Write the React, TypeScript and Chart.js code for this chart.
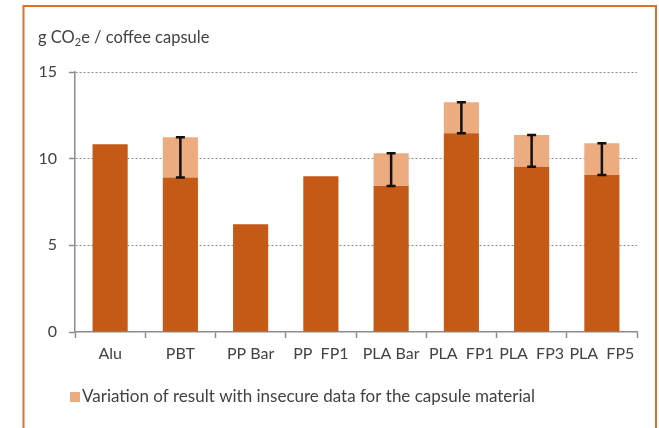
import React, { useEffect, useRef } from "react";
import { Chart, registerables } from "chart.js";

Chart.register(...registerables);

const categories = ["Alu", "PBT", "PP Bar", "PP  FP1", "PLA Bar", "PLA  FP1", "PLA  FP3", "PLA  FP5"];
const baseValues = [10.83, 8.92, 6.21, 8.98, 8.42, 11.47, 9.54, 9.06];
const upperValues: (number | null)[] = [null, 11.23, null, null, 10.31, 13.25, 11.37, 10.89];
const yTicks = [0, 5, 10, 15];
const legendLabel = "Variation of result with insecure data for the capsule material";

const DARK = "#C55A17";
const LIGHT = "#EDAB80";
const TEXT = "#424242";
const FONT = "Lato, 'Open Sans', sans-serif";

const variation = upperValues.map((u, i) => (u == null ? null : +(u - baseValues[i]).toFixed(2)));

const framePlugin = {
  id: "frame",
  beforeDraw(chart: any) {
    const ctx = chart.ctx;
    ctx.save();
    ctx.fillStyle = "#ffffff";
    ctx.fillRect(0, 0, chart.width, chart.height);
    ctx.strokeStyle = "#D5732F";
    ctx.lineWidth = 2;
    ctx.beginPath();
    ctx.moveTo(23.5, chart.height);
    ctx.lineTo(23.5, 6);
    ctx.lineTo(656, 6);
    ctx.lineTo(656, chart.height);
    ctx.stroke();
    ctx.restore();
  },
  afterDraw(chart: any) {
    const ctx = chart.ctx;
    ctx.save();
    ctx.fillStyle = TEXT;
    ctx.textBaseline = "alphabetic";
    ctx.font = `16.5px ${FONT}`;
    let x = 38;
    const y = 43;
    const first = "g CO";
    ctx.fillText(first, x, y);
    x += ctx.measureText(first).width;
    ctx.font = `11px ${FONT}`;
    ctx.fillText("2", x, y + 3);
    x += ctx.measureText("2").width;
    ctx.font = `16.5px ${FONT}`;
    ctx.fillText("e / coffee capsule", x, y);
    // legend
    ctx.fillStyle = LIGHT;
    ctx.fillRect(70, 392, 10, 10);
    ctx.fillStyle = TEXT;
    ctx.font = `17px ${FONT}`;
    ctx.textBaseline = "middle";
    ctx.fillText(legendLabel, 82, 397);
    ctx.restore();
  },
};

const errorBarPlugin = {
  id: "errorBars",
  afterDatasetsDraw(chart: any) {
    const ctx = chart.ctx;
    const yScale = chart.scales.y;
    const meta = chart.getDatasetMeta(0);
    ctx.save();
    ctx.strokeStyle = "#111111";
    ctx.lineWidth = 2.5;
    upperValues.forEach((u, i) => {
      if (u == null) return;
      const x = meta.data[i].x;
      const y1 = yScale.getPixelForValue(baseValues[i]);
      const y2 = yScale.getPixelForValue(u);
      ctx.beginPath();
      ctx.moveTo(x, y1);
      ctx.lineTo(x, y2);
      ctx.moveTo(x - 4.5, y1);
      ctx.lineTo(x + 4.5, y1);
      ctx.moveTo(x - 4.5, y2);
      ctx.lineTo(x + 4.5, y2);
      ctx.stroke();
    });
    ctx.restore();
  },
};

export default function App() {
  const ref = useRef<HTMLCanvasElement>(null);
  useEffect(() => {
    if (!ref.current) return;
    const chart = new Chart(ref.current, {
      type: "bar",
      data: {
        labels: categories,
        datasets: [
          {
            label: "Base",
            data: baseValues,
            backgroundColor: DARK,
            stack: "s",
            categoryPercentage: 1,
            barPercentage: 0.5,
          },
          {
            label: legendLabel,
            data: variation,
            backgroundColor: LIGHT,
            stack: "s",
            categoryPercentage: 1,
            barPercentage: 0.5,
          },
        ],
      },
      options: {
        animation: false,
        responsive: false,
        maintainAspectRatio: false,
        devicePixelRatio: 1,
        layout: { padding: { left: 0, right: 22, top: 72, bottom: 48 } },
        plugins: {
          legend: { display: false },
          tooltip: { enabled: false },
          title: { display: false },
        },
        scales: {
          x: {
            stacked: true,
            offset: true,
            border: { color: "#8c8c8c", width: 1.5 },
            grid: {
              offset: true,
              drawOnChartArea: false,
              drawTicks: true,
              tickLength: 6,
              tickColor: "#8c8c8c",
              tickWidth: 1.5,
            },
            ticks: {
              color: TEXT,
              font: { family: FONT, size: 16 },
              padding: 6,
              maxRotation: 0,
              autoSkip: false,
            },
            afterFit(s: any) {
              s.height = 48;
            },
          },
          y: {
            stacked: true,
            min: 0,
            max: 15,
            afterBuildTicks(s: any) {
              s.ticks = yTicks.map((v) => ({ value: v }));
            },
            border: { color: "#8c8c8c", width: 1.5, dash: [2, 2] },
            grid: {
              color: (c: any) => (c.tick && c.tick.value === 0 ? "rgba(0,0,0,0)" : "#8a8a8a"),
              lineWidth: 1,
              tickColor: "#8c8c8c",
              tickBorderDash: [],
              tickLength: 6,
              tickWidth: 1.5,
            },
            ticks: {
              color: TEXT,
              font: { family: FONT, size: 16 },
              padding: 12,
            },
            afterFit(s: any) {
              s.width = 75;
            },
          },
        },
      },
      plugins: [framePlugin, errorBarPlugin],
    });
    return () => chart.destroy();
  }, []);
  return (
    <div style={{ position: "absolute", left: 0, top: 0, width: 659, height: 428 }}>
      <canvas ref={ref} width={659} height={428} style={{ width: 659, height: 428, display: "block" }} />
    </div>
  );
}
